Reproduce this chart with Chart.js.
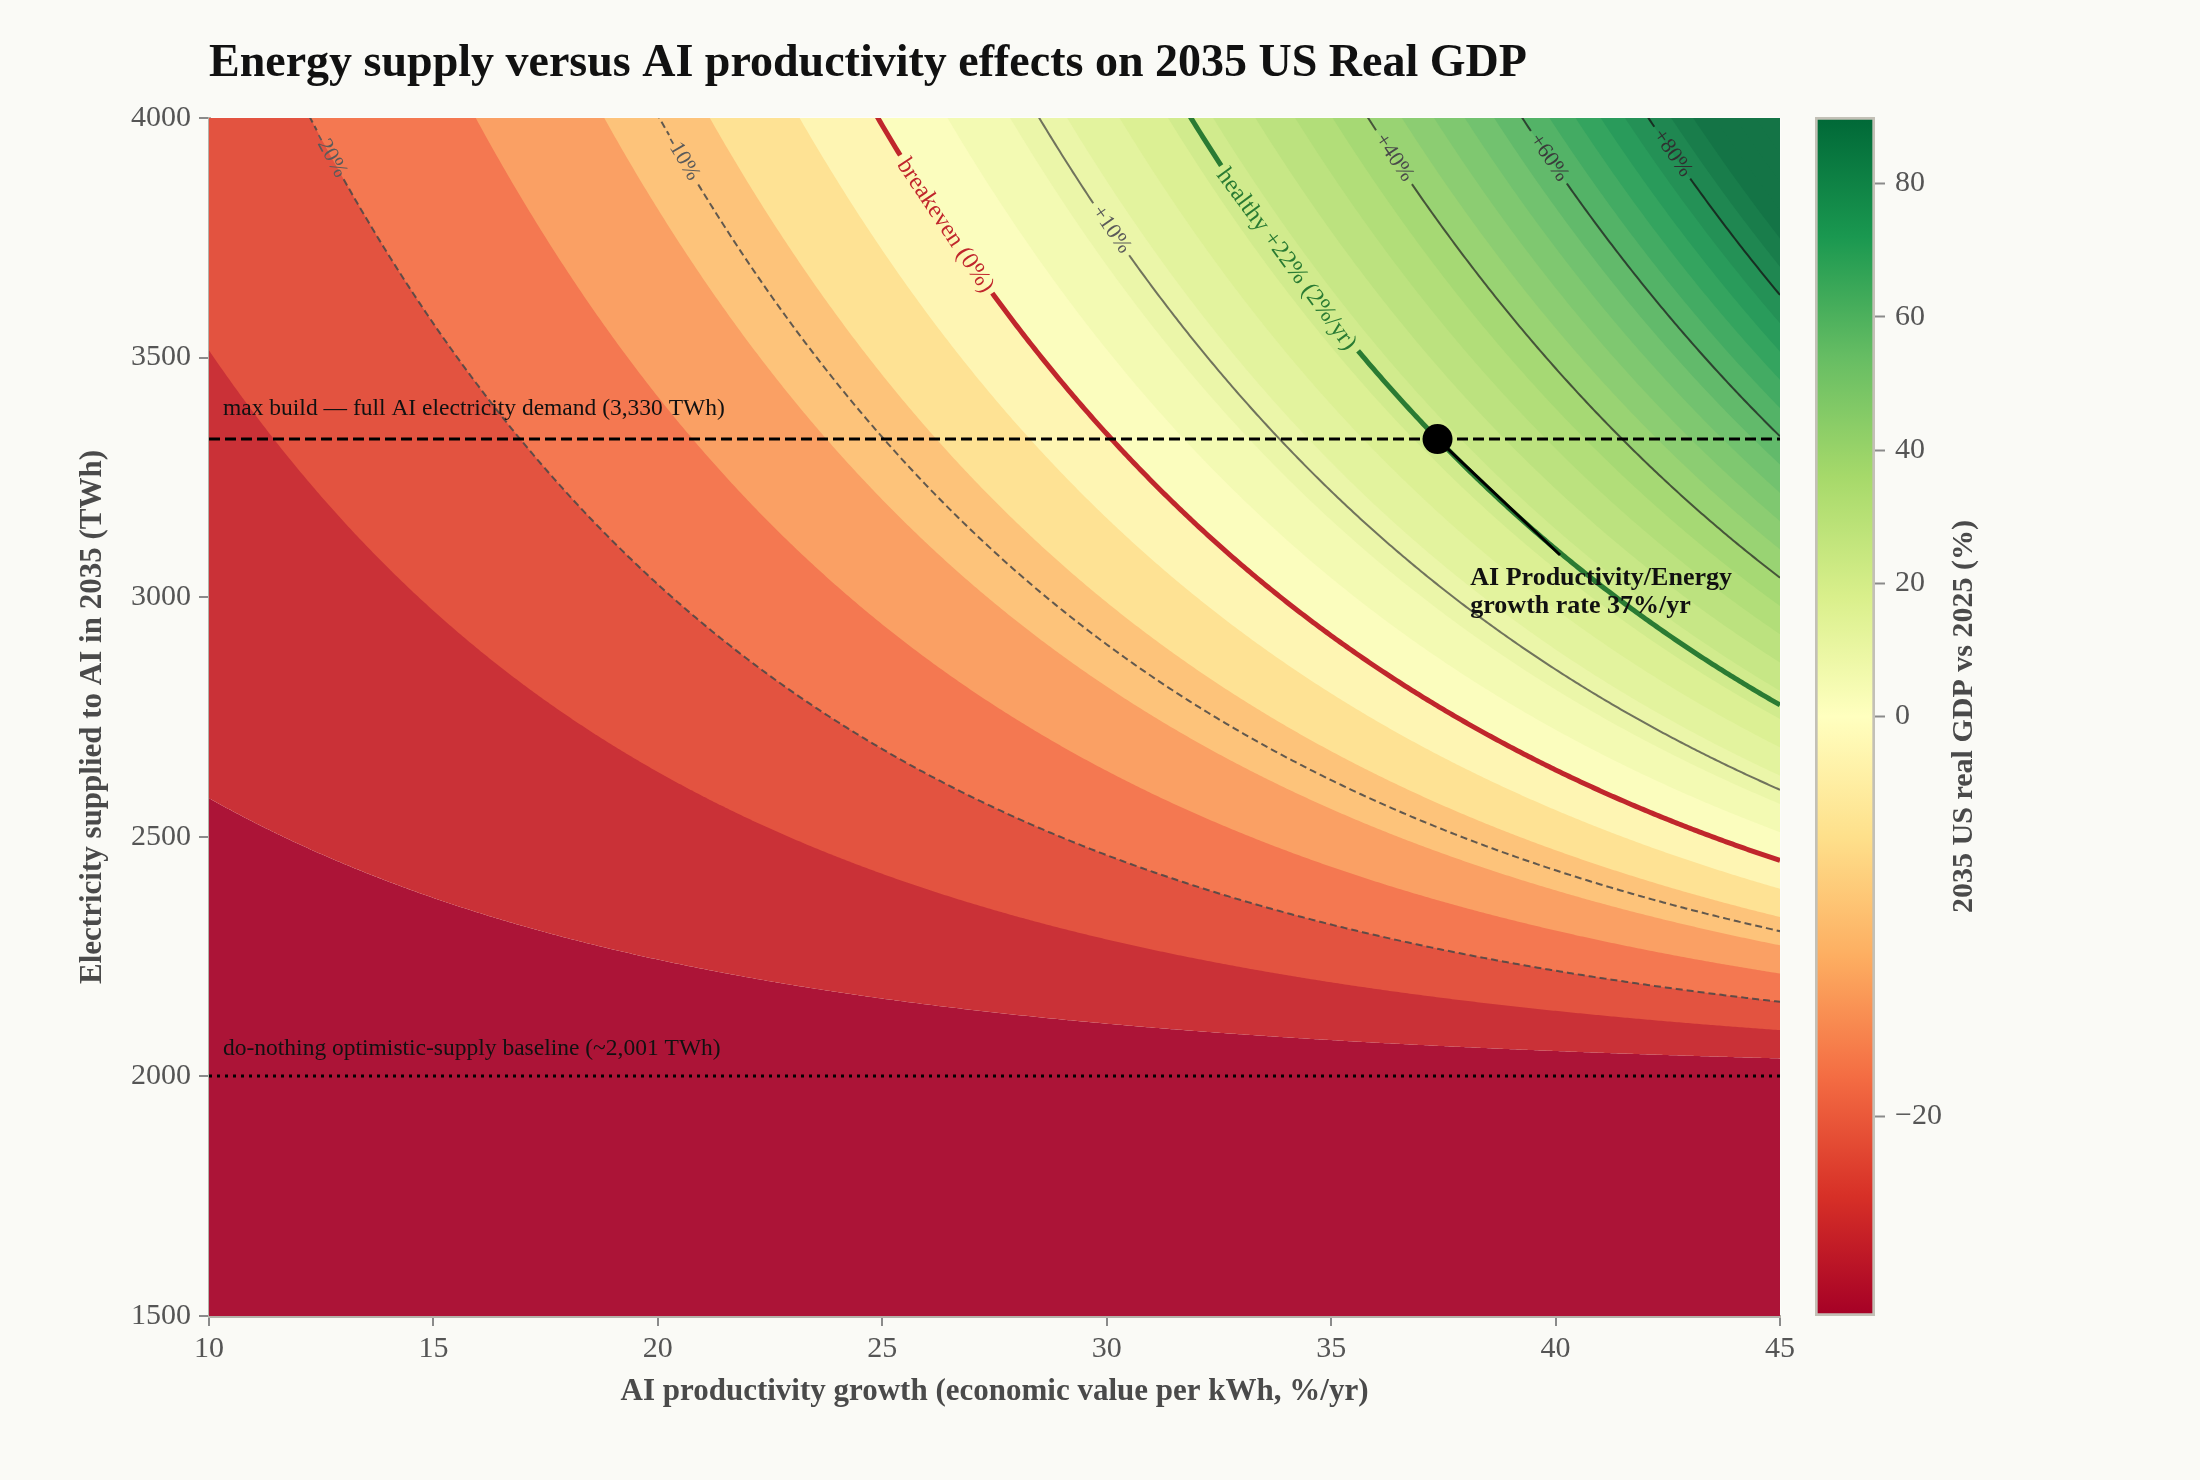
<!DOCTYPE html>
<html><head><meta charset="utf-8">
<script src="https://cdn.jsdelivr.net/npm/chart.js@4.4.1/dist/chart.umd.min.js"></script>
<style>
html,body{margin:0;padding:0;background:#fafaf6;}
#wrap{position:relative;width:2200px;height:1480px;overflow:hidden;}
canvas{position:absolute;top:0;}
#main{left:0;}
#cb{left:1780px;}
</style></head><body>
<div id="wrap"><canvas id="main" width="2200" height="1480"></canvas><canvas id="cb" width="420" height="1480"></canvas></div>
<script>
// ---------------- data ----------------
const titleText = 'Energy supply versus AI productivity effects on 2035 US Real GDP';
const xTitle = 'AI productivity growth (economic value per kWh, %/yr)';
const yTitle = 'Electricity supplied to AI in 2035 (TWh)';
const cbTitle = '2035 US real GDP vs 2025 (%)';
const growthRange = [10, 45];
const supplyRange = [1500, 4000];
const baselineTWh = 2001;          // do-nothing supply
const maxBuildTWh = 3330;          // full AI electricity demand
const horizonYears = 10;           // 2025 -> 2035
const gdpFloor = -30.48;           // % change with no AI supply above baseline
const gdpPerIndex = 0.00165;       // % per TWh-above-baseline x productivity multiple
const fillLevels = [-28,-24,-20,-16,-12,-8,-4,0,4,8,12,16,20,24,28,32,36,40,44,48,52,56,60,64,68,72,76,80,84,88,92,96,100,104];
const lineLevels = [-20, -10, 0, 10, 22, 40, 60, 80];
const lineLabels = ['-20%', '-10%', 'breakeven (0%)', '+10%', 'healthy +22% (2%/yr)', '+40%', '+60%', '+80%'];
const labelGrowth = [12.7, 20.55, 26.4, 30.1, 34.0, 36.4, 39.85, 42.6];
const operatingPoint = {x: 37.37, y: 3330};
const pointerEnd = {x: 40.1, y: 3088};
const cbTicks = [-20, 0, 20, 40, 60, 80];
const normMin = -30, normMax = 90;
const maxBuildText = 'max build \u2014 full AI electricity demand (3,330 TWh)';
const baselineText = 'do-nothing optimistic-supply baseline (~2,001 TWh)';
const pointText = ['AI Productivity/Energy', 'growth rate 37%/yr'];

// ---------------- styling ----------------
const SERIF = "'Liberation Serif', 'DejaVu Serif', serif";
const bgRGB = [250,250,246];
const fillAlpha = 0.92;
const rdylgn = ['#a50026','#d73027','#f46d43','#fdae61','#fee08b','#ffffbf','#d9ef8b','#a6d96a','#66bd63','#1a9850','#006837'];
const lineStyles = [
  {color:'rgba(70,70,70,0.85)', width:2, dash:[7,4], label:'#5a5a5a', size:22},
  {color:'rgba(70,70,70,0.85)', width:2, dash:[7,4], label:'#5a5a5a', size:22},
  {color:'#c0262c', width:5, dash:[], label:'#c0262c', size:24.5},
  {color:'rgba(60,60,60,0.7)', width:2, dash:[], label:'#5a5a5a', size:22},
  {color:'#2a7b33', width:5, dash:[], label:'#2a7b33', size:24.5},
  {color:'rgba(35,35,35,0.72)', width:2, dash:[], label:'#4a4a4a', size:22},
  {color:'rgba(30,30,30,0.75)', width:2, dash:[], label:'#3a3a3a', size:22},
  {color:'rgba(20,20,20,0.78)', width:2, dash:[], label:'#303030', size:22}
];

function hexToRgb(h){return [parseInt(h.slice(1,3),16),parseInt(h.slice(3,5),16),parseInt(h.slice(5,7),16)];}
const stops = rdylgn.map(hexToRgb);
function cmapRgb(t){t=Math.max(0,Math.min(1,t));const s=t*10;const i=Math.min(9,Math.floor(s));const f=s-i;return [0,1,2].map(k=>stops[i][k]+(stops[i+1][k]-stops[i][k])*f);}
function norm(v){return v>=0 ? 0.5+0.5*Math.min(v,normMax)/normMax : 0.5-0.5*Math.max(v,normMin)/normMin;}
function bandColor(v){const c=cmapRgb(norm(v));const b=c.map((x,k)=>Math.round(x*fillAlpha+bgRGB[k]*(1-fillAlpha)));return `rgb(${b[0]},${b[1]},${b[2]})`;}

function supplyAt(level, g){return baselineTWh + (level-gdpFloor)/gdpPerIndex/Math.pow(1+g/100, horizonYears);}
const growthSamples=[];for(let k=0;k<=700;k++)growthSamples.push(Math.round((growthRange[0]+k*0.05)*100)/100);
function curve(level){return growthSamples.map(g=>({x:g,y:Math.min(4400,supplyAt(level,g))}));}

const mctx=document.createElement('canvas').getContext('2d');
const labelWidths=lineLabels.map((t,i)=>{mctx.font=`${lineStyles[i].size}px ${SERIF}`;return mctx.measureText(t).width;});

function labelGeom(chart,i){
  const xs=chart.scales.x, ys=chart.scales.y, g=labelGrowth[i], L=lineLevels[i];
  const x0=xs.getPixelForValue(g-0.1), y0=ys.getPixelForValue(supplyAt(L,g-0.1));
  const x1=xs.getPixelForValue(g+0.1), y1=ys.getPixelForValue(supplyAt(L,g+0.1));
  return {x:xs.getPixelForValue(g), y:ys.getPixelForValue(supplyAt(L,g)), a:Math.atan2(y1-y0,x1-x0), half:labelWidths[i]/2+5};
}
function gapColor(i,color){
  return ctx=>{
    const lab=labelGeom(ctx.chart,i);
    const mx=(ctx.p0.x+ctx.p1.x)/2-lab.x, my=(ctx.p0.y+ctx.p1.y)/2-lab.y;
    const along=mx*Math.cos(lab.a)+my*Math.sin(lab.a);
    const across=-mx*Math.sin(lab.a)+my*Math.cos(lab.a);
    return (Math.abs(along)<lab.half && Math.abs(across)<25) ? 'rgba(0,0,0,0)' : color;
  };
}

// ---------------- datasets ----------------
const datasets=[];
datasets.push({data:curve(fillLevels[0]),fill:'start',backgroundColor:bandColor(fillLevels[0]-2),borderWidth:0,pointRadius:0,order:300});
fillLevels.forEach((L,i)=>{
  datasets.push({data:curve(L),fill:'end',backgroundColor:bandColor(L+2),borderWidth:0,pointRadius:0,order:299-i});
});
lineLevels.forEach((L,i)=>{
  const st=lineStyles[i];
  datasets.push({data:curve(L),fill:false,borderColor:st.color,borderWidth:st.width,borderDash:st.dash,pointRadius:0,order:20-i,
    segment:{borderColor:gapColor(i,st.color)}});
});
datasets.push({data:[{x:growthRange[0],y:maxBuildTWh},{x:growthRange[1],y:maxBuildTWh}],borderColor:'#000',borderWidth:3,borderDash:[11,5],pointRadius:0,fill:false,order:5});
datasets.push({data:[{x:growthRange[0],y:baselineTWh},{x:growthRange[1],y:baselineTWh}],borderColor:'#000',borderWidth:3,borderDash:[3,5],pointRadius:0,fill:false,order:4});
datasets.push({data:[operatingPoint,pointerEnd],borderColor:'#000',borderWidth:3,pointRadius:0,fill:false,order:3});
datasets.push({data:[operatingPoint],borderColor:'#000',backgroundColor:'#000',showLine:false,pointRadius:15,pointBorderWidth:0,order:1});

const overlay={
  id:'overlay',
  afterDraw(chart){
    const ctx=chart.ctx, xs=chart.scales.x, ys=chart.scales.y;
    ctx.save();
    // title
    ctx.fillStyle='#111';ctx.font=`bold 46px ${SERIF}`;ctx.textAlign='left';ctx.textBaseline='alphabetic';
    ctx.fillText(titleText,209,76);
    // contour labels
    lineLabels.forEach((t,i)=>{
      const lab=labelGeom(chart,i);
      ctx.save();ctx.translate(lab.x,lab.y);ctx.rotate(lab.a);
      ctx.fillStyle=lineStyles[i].label;ctx.font=`${lineStyles[i].size}px ${SERIF}`;ctx.textAlign='center';ctx.textBaseline='middle';
      ctx.fillText(t,0,0);ctx.restore();
    });
    // reference line notes
    ctx.fillStyle='#111';ctx.font=`23.5px ${SERIF}`;ctx.textAlign='left';ctx.textBaseline='alphabetic';
    ctx.fillText(maxBuildText,xs.getPixelForValue(growthRange[0])+14,ys.getPixelForValue(maxBuildTWh)-24);
    ctx.fillText(baselineText,xs.getPixelForValue(growthRange[0])+14,ys.getPixelForValue(baselineTWh)-21);
    ctx.font=`bold 26px ${SERIF}`;
    const px=xs.getPixelForValue(38.1), py=ys.getPixelForValue(3025);
    ctx.fillText(pointText[0],px,py);ctx.fillText(pointText[1],px,py+28);
    ctx.restore();
  }
};

const tickFont={family:SERIF,size:30};
new Chart(document.getElementById('main'),{
  type:'line',
  data:{datasets},
  options:{
    responsive:false,animation:false,devicePixelRatio:1,events:[],
    layout:{padding:{left:0,top:118,right:420,bottom:0}},
    plugins:{legend:{display:false},tooltip:{enabled:false}},
    scales:{
      x:{type:'linear',min:growthRange[0],max:growthRange[1],z:1,
        afterFit:s=>{s.height=164;},
        ticks:{stepSize:5,font:tickFont,color:'#555',padding:5,callback:v=>String(v)},
        grid:{color:'rgba(255,255,255,0.45)',lineWidth:2,tickLength:10,tickColor:'#8a8a8a',tickWidth:2},
        border:{color:'#b4b2aa',width:3},
        title:{display:true,text:xTitle,font:{family:SERIF,size:31,weight:'bold'},color:'#4a4a4a',padding:{top:0,bottom:69}}},
      y:{type:'linear',min:supplyRange[0],max:supplyRange[1],z:1,
        afterFit:s=>{s.width=209;},
        ticks:{stepSize:500,font:tickFont,color:'#555',padding:8,callback:v=>String(v)},
        grid:{color:'rgba(255,255,255,0.45)',lineWidth:2,tickLength:10,tickColor:'#8a8a8a',tickWidth:2},
        border:{color:'#b4b2aa',width:3},
        title:{display:true,text:yTitle,font:{family:SERIF,size:31,weight:'bold'},color:'#4a4a4a',padding:{top:74,bottom:0}}}
    }
  },
  plugins:[overlay]
});

// ---------------- colorbar ----------------
const cbLabel={id:'cbLabel',afterDraw(chart){
  const ctx=chart.ctx;ctx.save();ctx.translate(184,(chart.chartArea.top+chart.chartArea.bottom)/2);ctx.rotate(-Math.PI/2);
  ctx.fillStyle='#4a4a4a';ctx.font=`bold 30px ${SERIF}`;ctx.textAlign='center';ctx.textBaseline='middle';ctx.fillText(cbTitle,0,0);ctx.restore();
}};
new Chart(document.getElementById('cb'),{
  type:'bar',
  data:{labels:['cb'],datasets:[{data:[1],
    backgroundColor:c=>{const a=c.chart.chartArea;if(!a)return '#ccc';const gr=c.chart.ctx.createLinearGradient(0,a.bottom,0,a.top);rdylgn.forEach((h,i)=>gr.addColorStop(i/10,h));return gr;},
    borderColor:'#c3c0b6',borderWidth:3,borderSkipped:false,barPercentage:1,categoryPercentage:1}]},
  options:{
    responsive:false,animation:false,devicePixelRatio:1,events:[],
    layout:{padding:{left:35,top:117,right:0,bottom:164}},
    plugins:{legend:{display:false},tooltip:{enabled:false}},
    scales:{
      x:{display:false},
      y:{position:'right',min:0,max:1,
        afterFit:s=>{s.width=325;},
        afterBuildTicks:s=>{s.ticks=cbTicks.map(v=>({value:norm(v)}));},
        ticks:{callback:(v,i)=>cbTicks[i]<0?'\u2212'+Math.abs(cbTicks[i]):String(cbTicks[i]),font:tickFont,color:'#555',padding:10},
        grid:{drawOnChartArea:false,drawTicks:true,tickLength:10,tickColor:'#8a8a8a',tickWidth:2,color:'rgba(0,0,0,0)'},
        border:{display:false}}
    }
  },
  plugins:[cbLabel]
});
</script>
</body></html>
